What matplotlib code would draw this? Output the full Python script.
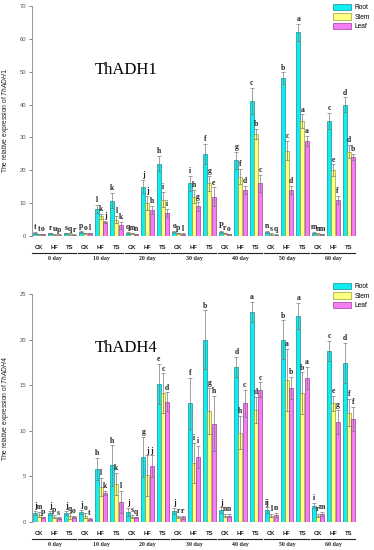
import numpy as np
import matplotlib
matplotlib.use("Agg")
import matplotlib.pyplot as plt
from matplotlib.transforms import offset_copy
from matplotlib.lines import Line2D

plt.rcParams['font.family'] = 'Liberation Sans'
plt.rcParams['mathtext.fontset'] = 'custom'
plt.rcParams['mathtext.it'] = 'Liberation Sans:italic'

days = ['0 day', '10 day', '20 day', '30 day', '40 day', '50 day', '60 day']
treatments = ['CK', 'HF', 'TS']
tissues = ['Root', 'Stem', 'Leaf']

# ThADH1: one row per day, order CK(R,S,L) HF(R,S,L) TS(R,S,L)
adh1_mean = [
    [1.0, 0.5, 0.5, 0.8, 0.5, 0.4, 0.8, 0.6, 0.4],
    [1.2, 0.8, 0.8, 8.2, 6.0, 4.2, 10.8, 5.0, 3.2],
    [1.0, 0.8, 0.5, 15.0, 10.0, 8.0, 22.0, 11.0, 7.0],
    [1.2, 0.8, 0.6, 16.0, 12.0, 9.0, 25.0, 16.0, 12.0],
    [1.2, 0.8, 0.5, 23.0, 18.0, 14.0, 41.0, 31.0, 16.0],
    [1.2, 0.6, 0.4, 48.0, 26.0, 14.0, 62.0, 35.0, 29.0],
    [1.0, 0.6, 0.5, 35.0, 20.0, 11.0, 40.0, 25.7, 24.0],
]
adh1_sd = [
    [0.3, 0.2, 0.2, 0.2, 0.2, 0.1, 0.2, 0.2, 0.1],
    [0.3, 0.2, 0.2, 1.2, 0.8, 0.3, 2.2, 1.0, 1.2],
    [0.3, 0.2, 0.2, 2.0, 2.2, 1.2, 2.3, 2.3, 1.3],
    [0.3, 0.2, 0.2, 2.2, 2.0, 1.3, 3.0, 2.3, 2.8],
    [0.3, 0.2, 0.2, 2.7, 2.3, 1.3, 4.0, 1.5, 2.5],
    [0.3, 0.2, 0.2, 1.8, 3.0, 1.3, 2.5, 2.0, 1.5],
    [0.3, 0.2, 0.2, 2.5, 1.8, 1.3, 2.2, 2.0, 1.0],
]
adh1_letters = [
    ['t', 't', 'o', 'r', 'u', 'p', 's', 'q', 'r'],
    ['p', 'o', 'l', 'l', 'k', 'j', 'k', 'l', 'k'],
    ['q', 'm', 'n', 'j', 'j', 'h', 'h', 'i', 'i'],
    ['o', 'p', 'l', 'i', 'h', 'g', 'f', 'g', 'e'],
    ['P', 'r', 'o', 'g', 'f', 'd', 'c', 'b', 'c'],
    ['n', 's', 'q', 'b', 'c', 'd', 'a', 'a', 'a'],
    ['m', 'n', 'm', 'c', 'e', 'f', 'd', 'd', 'b'],
]

# ThADH4
adh4_mean = [
    [1.0, 0.8, 0.5, 1.0, 0.6, 0.4, 1.0, 0.65, 0.55],
    [1.1, 0.7, 0.35, 5.8, 3.8, 3.2, 6.2, 4.2, 2.2],
    [1.1, 0.6, 0.5, 7.1, 5.1, 6.1, 15.1, 14.1, 13.2],
    [1.2, 0.55, 0.5, 13.0, 6.5, 7.1, 20.0, 12.2, 10.8],
    [1.3, 0.7, 0.7, 17.0, 9.8, 13.0, 23.0, 12.3, 14.5],
    [1.3, 0.7, 0.8, 20.0, 15.6, 14.7, 22.6, 14.1, 15.8],
    [1.8, 0.7, 0.9, 18.8, 13.0, 11.0, 17.4, 12.0, 11.3],
]
adh4_sd = [
    [0.2, 0.3, 0.1, 0.2, 0.2, 0.1, 0.2, 0.3, 0.15],
    [0.2, 0.3, 0.1, 1.2, 1.0, 0.2, 2.2, 1.2, 1.2],
    [0.4, 0.2, 0.1, 2.2, 2.2, 1.2, 2.2, 2.2, 1.0],
    [0.3, 0.15, 0.15, 2.8, 2.2, 1.2, 3.2, 2.5, 3.0],
    [0.3, 0.2, 0.2, 1.1, 1.8, 1.5, 1.1, 1.4, 0.8],
    [0.3, 0.2, 0.2, 2.1, 3.4, 1.2, 1.4, 2.3, 1.2],
    [0.3, 0.2, 0.2, 1.1, 0.8, 1.3, 2.2, 1.5, 1.3],
]
adh4_letters = [
    ['j', 'm', 'p', 'j', 'p', 's', 'j', 'q', 'o'],
    ['j', 'o', 't', 'h', 'l', 'k', 'h', 'k', 'l'],
    ['j', 's', 'q', 'g', 'j', 'j', 'e', 'c', 'd'],
    ['j', 'r', 'r', 'f', 'i', 'i', 'b', 'g', 'h'],
    ['j', 'n', 'n', 'd', 'h', 'c', 'a', 'd', 'c'],
    ['ij', 'l', 'n', 'b', 'a', 'b', 'a', 'b', 'a'],
    ['i', 'r', 'm', 'c', 'e', 'g', 'd', 'f', 'f'],
]

colors = ['#0ceef2', '#ffff80', '#f47cf4']
edges = ['#1a8c8c', '#9c9c3c', '#9c3c9c']


def draw_panel(fig, rect, mean, sd, letters, gene, ymax, step, legend_y, title_y):
    ax = fig.add_axes(rect)
    mean = np.array(mean)
    sd = np.array(sd)
    n = len(days) * len(treatments)
    centers = np.arange(n)
    w = 0.26
    for k in range(3):
        vals = mean[:, k::3].ravel()
        errs = sd[:, k::3].ravel()
        labs = [l for row in letters for l in row[k::3]]
        xs = centers + (k - 1) * w * 1.02
        ax.bar(xs, vals, width=w, color=colors[k], edgecolor=edges[k],
               linewidth=0.5, label=tissues[k], zorder=2)
        ax.errorbar(xs, vals, yerr=errs, fmt='none', ecolor='#7a7a7a',
                    elinewidth=0.5, capsize=1.3, capthick=0.5, zorder=3)
        for x, v, e, t in zip(xs, vals, errs, labs):
            ax.annotate(t, (x, v + e), xytext=(0, 0.6), textcoords='offset points',
                        ha='center', va='bottom', fontsize=5.5, fontweight='bold',
                        family='Liberation Serif', color='#222222')

    ax.set_xlim(-0.45, n - 0.03)
    ax.set_ylim(0, ymax)
    ax.set_yticks(np.arange(0, ymax + 1, step))
    ax.set_xticks([])
    for s in ['top', 'right', 'bottom']:
        ax.spines[s].set_visible(False)
    ax.spines['left'].set_color('#888888')
    ax.spines['left'].set_linewidth(0.6)
    ax.tick_params(axis='y', labelsize=4.2, colors='#555555', length=2, width=0.5,
                   pad=2)

    # treatment labels, day lines and day labels under the bars
    tr = ax.get_xaxis_transform()
    for i in range(n):
        ax.annotate(treatments[i % 3], (centers[i], 0), xycoords=tr,
                    xytext=(0, -8), textcoords='offset points', ha='center',
                    va='center', fontsize=4.2, fontweight='bold', color='#222222',
                    annotation_clip=False)
    line_tr = offset_copy(tr, fig=fig, y=-12.3, units='points')
    for d, day in enumerate(days):
        x0, x1 = d * 3 - 0.45, d * 3 + 2.42
        ax.add_line(Line2D([x0, x1], [0, 0], transform=line_tr, color='#222222',
                           linewidth=0.8, clip_on=False))
        ax.annotate(day, (d * 3 + 1, 0), xycoords=tr, xytext=(0, -16),
                    textcoords='offset points', ha='center', va='center',
                    fontsize=4.2, fontweight='bold', family='Liberation Serif',
                    color='#222222', annotation_clip=False)

    ax.text(0.285, title_y, gene, transform=ax.transAxes, ha='center', va='center',
            fontsize=12, family='Liberation Serif')
    b = ax.get_position()
    fig.text(6 / 374, b.y0 + b.height / 2,
             'The relative expression of $\\mathit{' + gene + '}$',
             rotation=90, ha='center', va='center', fontsize=4.8, color='#222222')
    ax.legend(loc='upper left', bbox_to_anchor=(333 / 374, legend_y),
              bbox_transform=fig.transFigure, frameon=False, fontsize=4.8,
              handlelength=2.7, handleheight=1.1, labelspacing=0.3,
              handletextpad=0.5, borderpad=0, borderaxespad=0)
    return ax


def main():
    fig = plt.figure(figsize=(3.74, 5.5), dpi=100)
    draw_panel(fig, [32 / 374, 1 - 236 / 550, 332 / 374, 230 / 550],
               adh1_mean, adh1_sd, adh1_letters, 'ThADH1', 70, 10, 1 - 4 / 550, 0.72)
    draw_panel(fig, [32 / 374, 1 - 522 / 550, 332 / 374, 228 / 550],
               adh4_mean, adh4_sd, adh4_letters, 'ThADH4', 25, 5, 1 - 283 / 550, 0.763)
    fig.savefig('out.png', dpi=100)


if __name__ == '__main__':
    main()
